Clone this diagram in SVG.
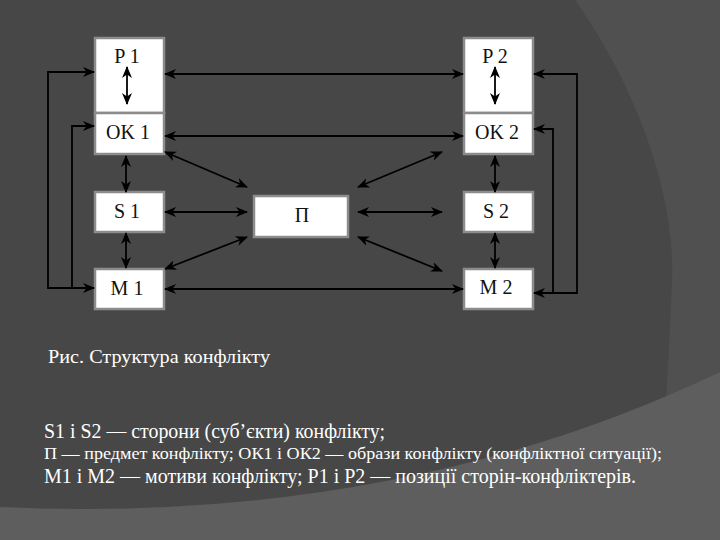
<svg xmlns="http://www.w3.org/2000/svg" width="720" height="540" viewBox="0 0 720 540">
<style>
.box{fill:#ffffff;stroke:#8c8c8c;stroke-width:2.5}
.lbl{font-family:"Liberation Serif","Times New Roman",Tinos,"DejaVu Serif","Noto Serif",FreeSerif,serif;font-size:20px;fill:#111;text-anchor:middle}
.con{fill:none;stroke:#000;stroke-width:1.8}
.two{marker-start:url(#ah);marker-end:url(#ah)}
.cap{font-family:"Liberation Serif","Times New Roman",Tinos,"DejaVu Serif","Noto Serif",FreeSerif,serif;fill:#ffffff}
</style>
<defs>
<marker id="ah" viewBox="0 0 12 10" refX="11" refY="5" markerWidth="12" markerHeight="10" markerUnits="userSpaceOnUse" orient="auto-start-reverse">
<path d="M0,0 L12,5 L0,10 L3.5,5 Z" fill="#000"/>
</marker>
</defs>
<rect width="720" height="540" fill="#474747"/>
<path d="M575,0 C632,80 676,190 672,280 C670,330 668,370 665,420 L720,420 L720,0 Z" fill="#505050"/>
<path d="M0,507 Q400,525 720,372 L720,540 L0,540 Z" fill="#5e5e5e"/>

<g id="P1"><rect class="box" x="95" y="38" width="69" height="75"/><text class="lbl" x="127" y="63">P 1</text></g>
<g id="OK1"><rect class="box" x="95" y="113" width="69" height="41"/><text class="lbl" x="128" y="139">OK 1</text></g>
<g id="S1"><rect class="box" x="95" y="192" width="69" height="40"/><text class="lbl" x="127" y="218">S 1</text></g>
<g id="M1"><rect class="box" x="95" y="269" width="69" height="40"/><text class="lbl" x="127" y="295">M 1</text></g>
<g id="Pi"><rect class="box" x="254" y="196" width="94" height="41"/><text class="lbl" x="302" y="222">П</text></g>
<g id="P2"><rect class="box" x="464" y="38" width="69" height="75"/><text class="lbl" x="495" y="63">P 2</text></g>
<g id="OK2"><rect class="box" x="464" y="113" width="69" height="41"/><text class="lbl" x="497" y="139">OK 2</text></g>
<g id="S2"><rect class="box" x="464" y="192" width="69" height="40"/><text class="lbl" x="496" y="218">S 2</text></g>
<g id="M2"><rect class="box" x="464" y="269" width="69" height="40"/><text class="lbl" x="496" y="294">M 2</text></g>

<g id="connectors">
<path class="con two" d="M127,67 V104"/>
<path class="con two" d="M495,67 V104"/>
<path class="con two" d="M126,156 V192"/>
<path class="con two" d="M126,233 V268"/>
<path class="con two" d="M495,156 V192"/>
<path class="con two" d="M495,233 V268"/>
<path class="con two" d="M165,74 H463"/>
<path class="con two" d="M165,136 H463"/>
<path class="con two" d="M165,289 H463"/>
<path class="con two" d="M165,152 L247,187"/>
<path class="con two" d="M165,212 H247"/>
<path class="con two" d="M165,269 L247,237"/>
<path class="con two" d="M358,187 L442,152"/>
<path class="con two" d="M358,212 H442"/>
<path class="con two" d="M358,237 L442,271"/>
<path class="con two" d="M94,72 H48 V288 H94"/>
<path class="con" d="M94,126 H72 V288" marker-start="url(#ah)"/>
<path class="con two" d="M534,74 H577 V293 H534"/>
<path class="con" d="M534,129 H553 V293" marker-start="url(#ah)"/>
</g>

<g id="caption">
<text class="cap" x="48" y="363" font-size="18" textLength="222" lengthAdjust="spacingAndGlyphs">Рис. Структура конфлікту</text>
<text class="cap" x="44" y="438" font-size="21" textLength="341" lengthAdjust="spacingAndGlyphs">S1 і S2 — сторони (суб’єкти) конфлікту;</text>
<text class="cap" x="44" y="459" font-size="17" textLength="618" lengthAdjust="spacingAndGlyphs">П — предмет конфлікту; ОК1 і ОК2 — образи конфлікту (конфліктної ситуації);</text>
<text class="cap" x="44" y="483" font-size="21" textLength="592" lengthAdjust="spacingAndGlyphs">М1 і М2 — мотиви конфлікту; Р1 і Р2 — позиції сторін-конфліктерів.</text>
</g>
</svg>
